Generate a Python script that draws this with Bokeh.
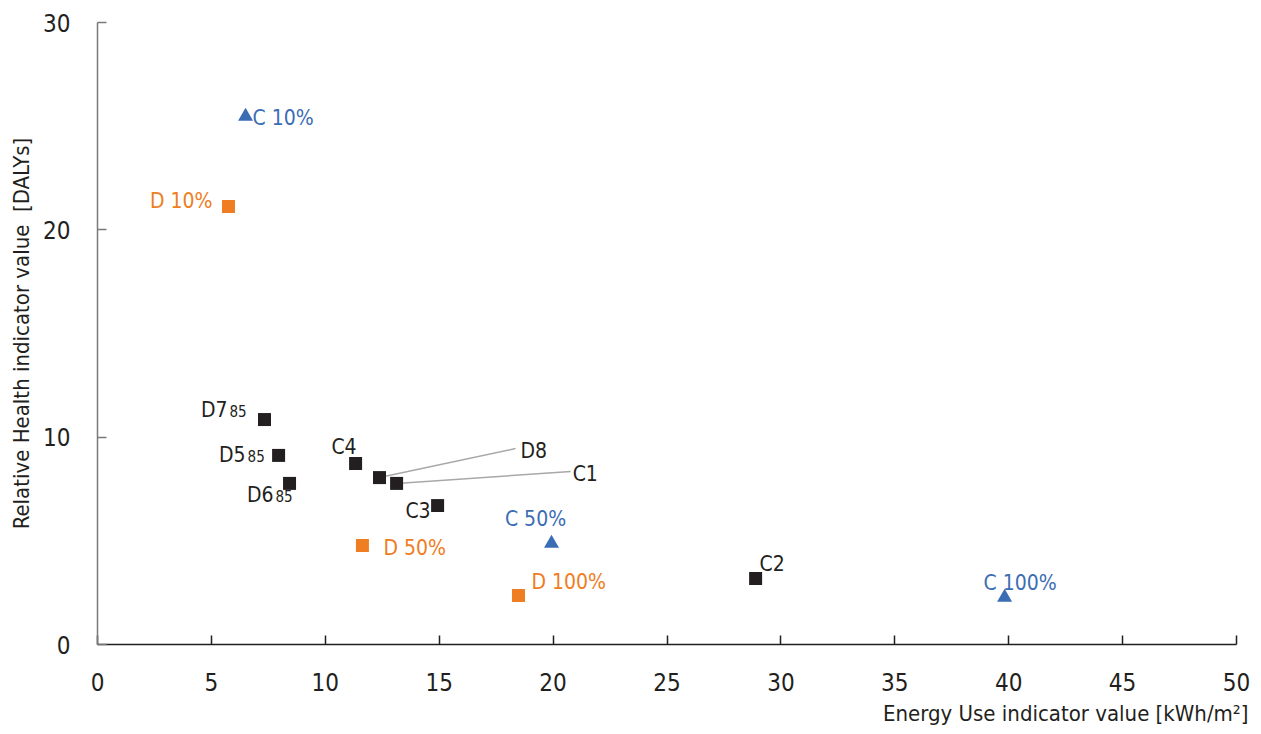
from bokeh.plotting import figure
from bokeh.models import ColumnDataSource, Title, FixedTicker
from bokeh.core.properties import value
from bokeh.embed import file_html
from bokeh.resources import INLINE

# ---- data ----
names = ["C 10%", "D 10%", "D7", "D5", "D6", "C4", "D8", "C1", "C3",
         "D 50%", "C 50%", "D 100%", "C2", "C 100%"]
energy = [6.50, 5.75, 7.33, 7.95, 8.43, 11.33, 12.38, 13.13, 14.93,
          11.63, 19.93, 18.48, 28.89, 39.82]
health = [25.47, 21.13, 10.85, 9.12, 7.77, 8.73, 8.05, 7.77, 6.70,
          4.77, 4.87, 2.36, 3.18, 2.27]
group = ["C", "D", "K", "K", "K", "K", "K", "K", "K",
         "D", "C", "D", "K", "C"]
subscripts = {"D7": "85", "D5": "85", "D6": "85"}
x_ticks = [0, 5, 10, 15, 20, 25, 30, 35, 40, 45, 50]
y_ticks = [0, 10, 20, 30]

# ---- styling / layout ----
FONT = "DejaVu Sans Condensed"
colors = {"C": "#3b6db5", "D": "#ef7d22", "K": "#231f20"}
label_layout = {  # name: (dx px, dy px (cap centre), align)
    "C 10%": (7, 2, "left"), "D 10%": (-16, -5, "right"),
    "D7": (-37, -10, "right"), "D5": (-33, 0, "right"), "D6": (-16, 12, "right"),
    "C4": (1, -16, "right"), "C3": (-7, 5, "right"),
    "D 50%": (21, 2, "left"), "C 50%": (-16, -25, "center"),
    "D 100%": (13, -14, "left"), "C2": (4, -15, "left"), "C 100%": (-21, -14, "left"),
}
leader = {"D8": (18.35, 9.45, 5, 2), "C1": (20.77, 8.34, 2, 2)}  # end x, end y, dx, dy

p = figure(width=1250, height=730, x_range=(0, 50), y_range=(0, 30),
           output_backend="svg", toolbar_location=None,
           min_border_left=97, min_border_right=14, min_border_top=22, min_border_bottom=86)
p.outline_line_color = None
p.grid.grid_line_color = None
p.background_fill_color = "white"

for ax in (p.xaxis[0], p.yaxis[0]):
    ax.major_tick_in = 9
    ax.major_tick_out = 0
    ax.minor_tick_line_color = None
    ax.major_label_text_font = FONT
    ax.major_label_text_font_size = "24px"
    ax.major_label_text_color = "#231f20"
p.xaxis.ticker = FixedTicker(ticks=x_ticks)
p.yaxis.ticker = FixedTicker(ticks=y_ticks)
p.xaxis.axis_line_color = "#231f20"
p.xaxis.major_tick_line_color = "#231f20"
p.yaxis.axis_line_color = "#7a7a7a"
p.yaxis.major_tick_line_color = "#7a7a7a"
p.xaxis.major_label_standoff = 28
p.yaxis.major_label_standoff = 27
p.axis.axis_line_width = 1.5
p.axis.major_tick_line_width = 1.5

p.yaxis.axis_label = "Relative Health indicator value \u00a0[DALYs]"
p.yaxis.axis_label_text_font = FONT
p.yaxis.axis_label_text_font_size = "22px"
p.yaxis.axis_label_text_font_style = "normal"
p.yaxis.axis_label_text_color = "#231f20"
p.yaxis.axis_label_standoff = 6

xt = Title(text="Energy Use indicator value [kWh/m\u00b2]", align="right",
           text_font=FONT, text_font_size="22px", text_font_style="normal",
           text_color="#231f20", standoff=10, offset=-12)
p.add_layout(xt, "below")

# leader lines
lx0 = [energy[names.index(n)] for n in leader]
ly0 = [health[names.index(n)] for n in leader]
p.segment(x0=lx0, y0=ly0, x1=[v[0] for v in leader.values()], y1=[v[1] for v in leader.values()],
          line_color="#a8a8a8", line_width=1.5)

# markers
for g, marker, size in (("K", "square", 13), ("D", "square", 13), ("C", "triangle", 15)):
    idx = [i for i, gg in enumerate(group) if gg == g]
    src = ColumnDataSource(dict(x=[energy[i] for i in idx], y=[health[i] for i in idx]))
    p.scatter("x", "y", source=src, marker=marker, size=size,
              fill_color=colors[g], line_color=colors[g], line_width=0)

# labels
lab = dict(x=[], y=[], t=[], dx=[], dy=[], al=[], c=[])
sub = dict(x=[], y=[], t=[], dx=[], dy=[], c=[])
for i, n in enumerate(names):
    if n in leader:
        ex, ey, dx, dy = leader[n]
        lab["x"].append(ex); lab["y"].append(ey); al = "left"
    else:
        dx, dy, al = label_layout[n]
        lab["x"].append(energy[i]); lab["y"].append(health[i])
    lab["t"].append(n); lab["dx"].append(dx); lab["dy"].append(dy); lab["al"].append(al)
    lab["c"].append(colors[group[i]])
    if n in subscripts:
        sub["x"].append(energy[i]); sub["y"].append(health[i]); sub["t"].append(subscripts[n])
        sub["dx"].append(dx + 2); sub["dy"].append(dy + 1); sub["c"].append(colors[group[i]])

p.text("x", "y", text="t", x_offset="dx", y_offset="dy", text_align="al",
       text_baseline="middle", text_color="c", source=ColumnDataSource(lab),
       text_font=value(FONT), text_font_size="21px")
p.text("x", "y", text="t", x_offset="dx", y_offset="dy", text_align="left",
       text_baseline="middle", text_color="c", source=ColumnDataSource(sub),
       text_font=value(FONT), text_font_size="15px")

open("out.html", "w").write(file_html(p, INLINE))
